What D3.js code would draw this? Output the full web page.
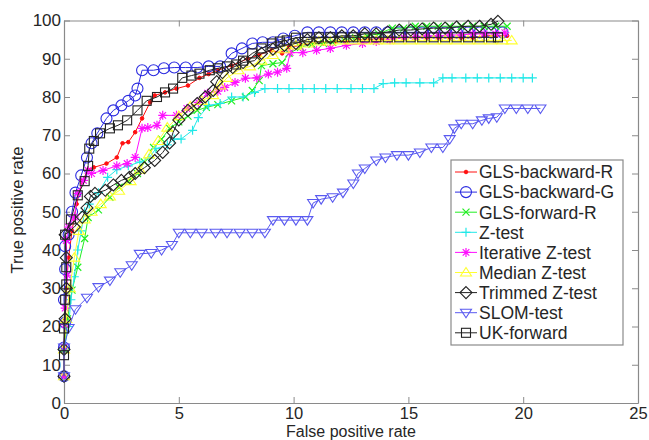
<!DOCTYPE html>
<html><head><meta charset="utf-8">
<script src="https://cdn.jsdelivr.net/npm/d3@7/dist/d3.min.js"></script>
<style>body{margin:0;background:#fff}svg{display:block}</style>
</head><body>
<svg id="c" width="649" height="440"></svg>
<script>
const seriesNames = ["GLS-backward-R","GLS-backward-G","GLS-forward-R","Z-test","Iterative Z-test","Median Z-test","Trimmed Z-test","SLOM-test","UK-forward"];
const seriesColors = ["#ff1010","#2a2ae0","#22ee22","#22e8e8","#ff10ff","#ffff30","#222222","#5a5af0","#222222"];
const seriesMarkers = ["dot","circle","x","plus","star","triUp","diamond","triDown","square"];
const xTicks = [0,5,10,15,20,25];
const yTicks = [0,10,20,30,40,50,60,70,80,90,100];

const glsBackwardR = [[0,7],[0,14],[0.05,22],[0.1,30],[0.2,38],[0.35,45],[0.55,52],[0.8,58],[1.05,61],[1.3,61.6],[1.85,62.6],[2.3,64.2],[2.55,67.9],[2.8,68.2],[3.1,70.8],[3.4,74.4],[3.75,78.6],[3.95,80.4],[4.4,81.2],[4.9,82.2],[5.4,83],[5.9,85],[6.3,86],[6.7,87],[7.3,88.2],[8.0,90],[8.5,91],[9.05,92.2],[9.5,91.4],[9.8,93],[10.3,93.5],[10.8,94],[11.3,94],[11.8,94.5],[12.3,94.5],[12.8,95],[13.3,95],[13.8,95],[14.3,95.5],[14.8,95.5],[15.3,95.5],[15.8,95.5],[16.3,95.5],[16.8,95.5],[17.3,95.5],[17.8,95.5],[18.3,96],[18.8,96],[19.3,96]];
const glsBackwardG = [[0,7],[0,14.5],[0.05,21],[0,27],[0.05,35],[0.05,41],[0.2,44],[0.35,50],[0.5,55],[0.75,59.5],[1.0,64.2],[1.2,67.9],[1.45,70.5],[1.85,74.4],[2.15,76.5],[2.5,77.8],[2.8,79],[3.1,80.4],[3.2,82.2],[3.4,87],[3.9,87],[4.35,87.5],[4.8,87.7],[5.3,87.7],[5.8,87.7],[6.3,88],[6.8,88],[7.3,91.4],[7.75,92.7],[8.2,94],[8.65,94.3],[9.1,94.3],[9.55,95.3],[10.05,96],[10.6,96.9],[11.1,96.9],[11.6,96.9],[12.1,96.9],[12.6,96.9],[13.1,96.9],[13.6,96.9],[14.1,96.9],[14.6,96.9],[15.1,96.9],[15.6,96.9],[16.1,96.9],[16.6,96.9],[17.1,96.9],[17.6,96.9],[18.1,96.9],[18.6,96.9],[19.1,96.9]];
const glsForwardR = [[0,7],[0,14],[0.15,22],[0.35,29.5],[0.6,35.5],[0.9,43],[1.05,48.5],[1.5,50.5],[2.0,53.8],[2.4,56.4],[2.8,58],[3.2,60],[3.5,63],[3.9,66.8],[4.25,69],[4.6,71.8],[5.0,73.5],[5.4,75],[5.8,76.5],[6.2,77.3],[6.7,78],[7.3,79],[7.9,80],[8.2,81.7],[8.5,84.3],[8.6,88.2],[9.1,88.7],[9.5,89],[9.8,91.4],[10.3,93],[10.8,93.8],[11.3,94],[11.7,94.3],[12.2,95],[12.7,95.5],[13.2,96],[13.7,96.5],[14.3,98],[14.8,98],[15.3,98.5],[15.8,98.5],[16.3,98.5],[16.8,98.5],[17.3,98.5],[17.8,98.5],[18.3,98.5],[18.8,98.5],[19.3,98.5]];
const zTest = [[0,14],[0.2,20],[0.3,27],[0.45,33],[0.6,40],[0.75,45],[0.9,50],[1.1,52],[1.5,55],[1.9,59],[2.3,61],[2.8,62],[3.3,63],[3.7,64],[4.0,66.5],[4.5,67.5],[4.8,69],[5.1,69],[5.6,71.3],[5.85,74.6],[6.3,77.8],[6.8,78.3],[7.3,80],[7.8,80],[8.3,81.2],[8.75,82.2],[9.3,82.2],[9.8,82.2],[10.4,82.2],[10.9,82.2],[11.4,82.2],[11.9,82.2],[12.5,82.2],[13.0,82.2],[13.5,82.2],[13.9,83.5],[14.4,83.7],[14.9,83.7],[15.5,83.7],[16.1,83.7],[16.5,85],[16.9,85],[17.5,85],[18,85],[18.5,85],[19,85],[19.5,85],[20,85],[20.4,85]];
const iterativeZ = [[0,7],[0,14.6],[0.05,20.5],[0.05,24.8],[0.15,33.4],[0.1,42.5],[0.2,46],[0.45,48.6],[0.6,54.8],[0.85,58.2],[1.05,60.8],[1.2,60],[1.7,60.8],[2.3,62],[2.75,62.6],[3.1,64.2],[3.4,71.8],[3.65,72],[4.05,72.6],[4.3,75.2],[4.9,75.2],[5.35,77],[5.85,78.6],[6.25,81],[6.7,81.5],[7.0,82.5],[7.45,83.8],[7.9,84.9],[8.4,85],[8.9,86],[9.3,86.5],[9.7,87.5],[9.85,91.6],[10.4,91.6],[11.0,92.2],[11.6,92.7],[12.3,93.5],[13.0,94],[13.6,94.5],[14.2,95],[14.8,95.5],[15.3,95.8],[15.8,96],[16.3,96],[16.8,96.2],[17.3,96.2],[17.8,96.5],[18.3,96.5],[18.8,96.5],[19.2,96.8]];
const medianZ = [[0,7],[0,14],[0.1,22],[0.25,30],[0.45,38],[0.65,45],[0.9,48],[1.2,50],[1.6,52],[2.0,54],[2.4,55.5],[2.9,58],[3.3,61],[3.7,65],[4.1,68.5],[4.5,72],[5.0,75],[5.5,77.5],[6.0,79],[6.5,80.5],[6.8,83],[7.1,85],[7.6,87],[8.1,88],[8.6,89.5],[9.1,91],[9.6,92.5],[10.1,93.5],[10.6,94],[11.1,94.5],[11.6,94.5],[12.1,94.8],[12.6,94.8],[13.1,94.8],[13.6,94.8],[14.1,94.8],[14.6,94.8],[15.1,94.8],[15.6,94.8],[16.1,94.8],[16.6,94.8],[17.1,94.8],[17.6,94.8],[18.1,94.8],[18.6,94.8],[19.1,94.8],[19.5,94.8]];
const trimmedZ = [[0,7],[0,14],[0.05,22],[0.1,30],[0.1,38],[0.05,44],[0.45,46],[0.8,48.6],[1.0,51],[1.15,54],[1.35,54.8],[1.8,55.6],[2.15,57],[2.5,58.2],[2.85,59],[3.1,60],[3.5,61.5],[3.95,63.4],[4.3,65.5],[4.6,68],[4.75,70.7],[5.0,74],[5.4,76.5],[5.8,78.3],[6.15,80],[6.5,81.7],[6.65,84],[6.9,86.4],[7.35,87.7],[7.8,89],[8.3,89.5],[8.6,91.4],[9.1,92.5],[9.6,93.5],[10.1,94],[10.6,95],[11.1,95.5],[11.6,95.5],[12.1,96],[12.6,96],[13.1,96.5],[13.6,96.5],[14.1,97],[14.6,97.5],[15.1,97.5],[15.6,97.8],[16.1,98],[16.6,98],[17.1,98.3],[17.6,98.5],[18.1,98.5],[18.6,99],[18.9,99.8]];
const slomTest = [[0,7],[0,14.5],[0.2,19.6],[0.5,24.5],[1.0,27.5],[1.5,30.3],[2.0,32],[2.45,34.2],[2.95,36],[3.3,39],[3.8,39.2],[4.25,40],[4.7,41.3],[5.0,44.5],[5.5,44.5],[6.0,44.5],[6.6,44.5],[7.1,44.5],[7.65,44.5],[8.2,44.5],[8.75,44.5],[9.1,47.8],[9.6,47.8],[10.1,47.8],[10.6,47.8],[10.85,52.3],[11.2,53.3],[11.7,53.8],[12.15,55],[12.6,57.4],[12.8,60],[13.1,61.3],[13.6,63.4],[14.0,64.2],[14.5,64.8],[15.0,64.8],[15.5,65.5],[16.0,66.8],[16.5,66.8],[16.8,69],[17.0,71.8],[17.3,73],[17.8,73],[18.2,73.9],[18.5,74.4],[18.85,74.7],[19.2,77],[19.7,77],[20.2,77],[20.75,77]];
const ukForward = [[0,12.5],[0,19.5],[0.05,27],[0.1,31],[0.1,35.5],[0.05,44],[0.3,48],[0.6,54.3],[0.9,58],[1.05,62],[1.1,66.5],[1.3,68.5],[1.57,70.5],[2.0,71.8],[2.35,72.6],[2.75,73.9],[3.2,76.5],[3.6,79],[4.05,80],[4.4,81.2],[4.75,82.2],[5.15,85],[5.55,85.6],[5.9,86.1],[6.35,87],[6.7,87.5],[7.1,88],[7.5,88.5],[7.8,89.5],[8.2,91.4],[8.6,92.7],[9.05,94],[9.4,94.5],[9.7,94.8],[10.1,95.5],[10.6,95.6],[11.1,95.6],[11.6,95.6],[12.1,95.6],[12.6,95.6],[13.1,95.6],[13.6,95.6],[14.1,95.6],[14.6,95.6],[15.1,95.6],[15.6,95.6],[16.1,95.6],[16.6,95.6],[17.1,95.6],[17.6,95.6],[18.1,95.6],[18.6,95.6],[18.9,95.6]];

const seriesData = [glsBackwardR, glsBackwardG, glsForwardR, zTest, iterativeZ, medianZ, trimmedZ, slomTest, ukForward];

const svg = d3.select("#c");
const L = 64, R = 638, T = 20.5, B = 403;
const x = d3.scaleLinear().domain([0,25]).range([L,R]);
const y = d3.scaleLinear().domain([0,100]).range([B,T]);
const axisColor = "#8a8a8a", textColor = "#262626";
const font = "'Liberation Sans', Arial, sans-serif";

svg.append("rect").attr("x",0).attr("y",0).attr("width",649).attr("height",440).attr("fill","#fff");

// axes
const gb = svg.append("g").attr("transform",`translate(0,${B})`)
  .call(d3.axisBottom(x).tickValues(xTicks).tickSizeInner(-6).tickSizeOuter(0).tickPadding(4).tickFormat(d3.format("d")));
const gt = svg.append("g").attr("transform",`translate(0,${T})`)
  .call(d3.axisTop(x).tickValues(xTicks).tickSizeInner(-6).tickSizeOuter(0).tickFormat(""));
const gl = svg.append("g").attr("transform",`translate(${L},0)`)
  .call(d3.axisLeft(y).tickValues(yTicks).tickSizeInner(-6).tickSizeOuter(0).tickPadding(3).tickFormat(d3.format("d")));
const gr = svg.append("g").attr("transform",`translate(${R},0)`)
  .call(d3.axisRight(y).tickValues(yTicks).tickSizeInner(-6).tickSizeOuter(0).tickFormat(""));
[gb,gt,gl,gr].forEach(g=>{
  g.select(".domain").attr("stroke",axisColor).attr("stroke-width",1.2);
  g.selectAll(".tick line").attr("stroke",axisColor);
  g.selectAll(".tick text").attr("fill",textColor).style("font-family",font).style("font-size","17px");
});
gb.selectAll(".tick text").style("font-size","16.5px");

// axis labels
svg.append("text").attr("x",351).attr("y",436.5).attr("text-anchor","middle")
  .attr("fill",textColor).style("font-family",font).style("font-size","16px").text("False positive rate");
svg.append("text").attr("transform","translate(23,210) rotate(-90)").attr("text-anchor","middle")
  .attr("fill",textColor).style("font-family",font).style("font-size","16.5px").text("True positive rate");

// marker drawing
function drawMarker(g, type, color){
  switch(type){
    case "dot": g.append("circle").attr("r",1.8).attr("fill",color).attr("stroke",color); break;
    case "circle": g.append("circle").attr("r",5.5).attr("fill","none").attr("stroke",color).attr("stroke-width",1.1); break;
    case "square": g.append("rect").attr("x",-4.5).attr("y",-4.5).attr("width",9).attr("height",9).attr("fill","none").attr("stroke",color).attr("stroke-width",1.1); break;
    case "diamond": g.append("path").attr("d","M0,-6L6,0L0,6L-6,0Z").attr("fill","none").attr("stroke",color).attr("stroke-width",1.1); break;
    case "triDown": g.append("path").attr("d","M-5.5,-3.5L5.5,-3.5L0,5Z").attr("fill","none").attr("stroke",color).attr("stroke-width",1.1); break;
    case "triUp": g.append("path").attr("d","M-5.5,3.5L5.5,3.5L0,-5Z").attr("fill","none").attr("stroke",color).attr("stroke-width",1.1); break;
    case "x": g.append("path").attr("d","M-3.5,-3.5L3.5,3.5M-3.5,3.5L3.5,-3.5").attr("stroke",color).attr("stroke-width",1.2); break;
    case "plus": g.append("path").attr("d","M-4.5,0L4.5,0M0,-4.5L0,4.5").attr("stroke",color).attr("stroke-width",1.2); break;
    case "star": g.append("path").attr("d","M-4.5,0L4.5,0M0,-4.5L0,4.5M-3.3,-3.3L3.3,3.3M-3.3,3.3L3.3,-3.3").attr("stroke",color).attr("stroke-width",1.2); break;
  }
}

const line = d3.line().x(d=>x(d[0])).y(d=>y(d[1]));
const plot = svg.append("g");
seriesData.forEach((data,i)=>{
  const g = plot.append("g");
  g.append("path").attr("d",line(data)).attr("fill","none").attr("stroke",seriesColors[i]).attr("stroke-width",1);
  data.forEach(d=>{
    const m = g.append("g").attr("transform",`translate(${x(d[0])},${y(d[1])})`);
    drawMarker(m, seriesMarkers[i], seriesColors[i]);
  });
});

// legend
const lg = svg.append("g");
lg.append("rect").attr("x",451).attr("y",160).attr("width",172).attr("height",185)
  .attr("fill","#fff").attr("stroke","#8a8a8a").attr("stroke-width",1.2);
seriesNames.forEach((name,i)=>{
  const cy = 172 + i*20.1;
  lg.append("line").attr("x1",455).attr("x2",477).attr("y1",cy).attr("y2",cy).attr("stroke",seriesColors[i]).attr("stroke-width",1);
  const m = lg.append("g").attr("transform",`translate(466,${cy})`);
  drawMarker(m, seriesMarkers[i], seriesColors[i]);
  lg.append("text").attr("x",479).attr("y",cy).attr("dy","0.36em").attr("fill",textColor)
    .style("font-family",font).style("font-size","17.5px").text(name);
});
</script>
</body></html>
